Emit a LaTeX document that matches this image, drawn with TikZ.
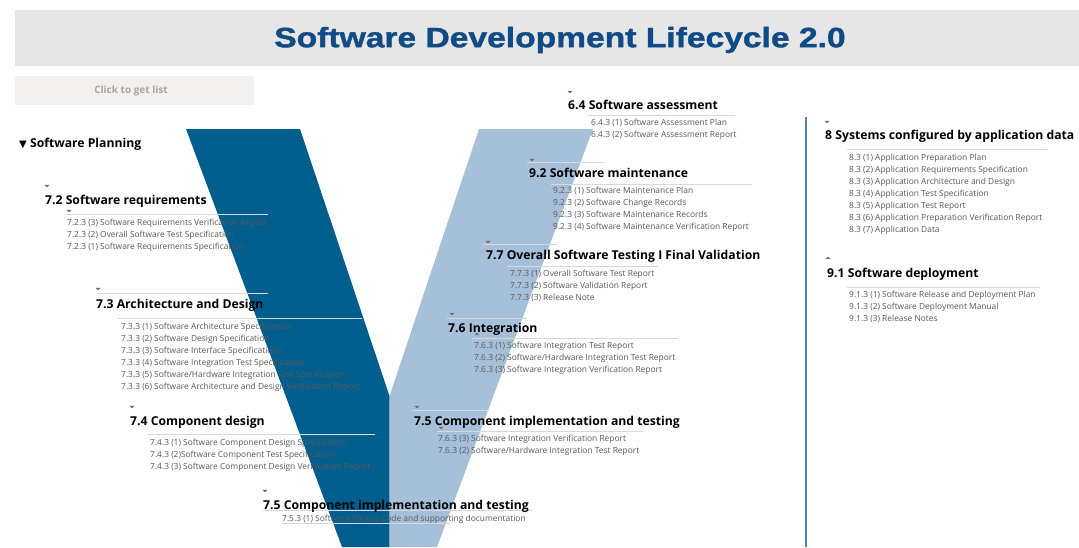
\documentclass[tikz,border=0pt]{standalone}
\usepackage{fontspec}
\setmainfont{Open Sans}
\newfontfamily\titlefont[FakeStretch=1.2,BoldFeatures={FakeStretch=1.2,FakeBold=1.4}]{Liberation Sans}
\newfontfamily\symfont{DejaVu Sans}
\definecolor{vdark}{RGB}{0,94,142}
\definecolor{vlight}{RGB}{166,192,217}
\definecolor{titleblue}{RGB}{17,75,133}
\definecolor{barg}{RGB}{230,230,230}
\definecolor{clickbg}{RGB}{242,241,240}
\definecolor{clicktx}{RGB}{165,165,165}
\definecolor{itemgray}{RGB}{89,89,89}
\definecolor{sepgray}{RGB}{217,217,217}
\definecolor{markgray}{RGB}{110,110,110}
\definecolor{vline}{RGB}{85,132,180}
\newcommand\dmk[2]{\fill[mk] (#1,#2) ++(-2.5,-1.2) -- ++(5,0) -- ++(-2.5,2.6) -- cycle;}
\newcommand\umk[2]{\fill[mk] (#1,#2) ++(-2.5,1.2) -- ++(5,0) -- ++(-2.5,-2.6) -- cycle;}
\begin{document}
\begin{tikzpicture}[x=1pt,y=-1pt,
  hd/.style={anchor=west,inner sep=0pt,font=\bfseries\fontsize{12.2}{14}\selectfont,text height=8.8pt,text depth=0pt,text=black},
  itm/.style={anchor=west,inner sep=0pt,font=\fontsize{8.4}{9}\selectfont,text height=6.1pt,text depth=0pt,text=itemgray},
  sep/.style={draw=sepgray,line width=0.8pt},
  mk/.style={fill=markgray,draw=none}]
\useasboundingbox (0,0) rectangle (1079,547);
\fill[white] (0,0) rectangle (1079,547);
% title bar
\fill[barg] (15,10) rectangle (1079,66);
\node[inner sep=0pt,text=titleblue,font=\titlefont\bfseries\fontsize{28}{30}\selectfont] (title) at (560,40) {Software Development Lifecycle 2.0};
% click box
\fill[clickbg] (15,76) rectangle (254,105);
\node[inner sep=0pt,text=clicktx,font=\bfseries\fontsize{10}{11}\selectfont] (click) at (131,91) {Click to get list};
% V shape
\fill[vdark] (186,129) -- (300,129) -- (389.5,396) -- (389.5,547) -- (342,547) -- cycle;
\fill[vlight] (389.5,396) -- (479,129) -- (593,129) -- (437,547) -- (389.5,547) -- cycle;
% vertical divider
\draw[vline,line width=2pt] (806,117) -- (806,547);
% separators
\draw[sep] (65,214) -- (268,214);
\draw[sep] (98,293) -- (268,293);
\draw[sep] (118,318) -- (362,318);
\draw[sep] (148,434) -- (375,434);
\draw[sep] (263,510) -- (532,510);
\draw[sep] (282,523) -- (450,523);
\draw[sep] (412,410) -- (490,410);
\draw[sep] (437,431) -- (643,431);
\draw[sep] (447,318) -- (527,318);
\draw[sep] (472,338) -- (678,338);
\draw[sep] (483,244) -- (557,244);
\draw[sep] (507,266) -- (658,266);
\draw[sep] (527,162) -- (605,162);
\draw[sep] (551,184) -- (752,184);
\draw[sep] (588,115) -- (735,115);
\draw[sep] (847,149) -- (1047,149);
\draw[sep] (847,287) -- (1040,287);
% markers
\dmk{47}{186}\dmk{69}{211}\dmk{98}{289}\dmk{132}{407}\dmk{265}{491}\dmk{417}{407}
\dmk{441}{428}\dmk{452}{314}\dmk{488}{242}\dmk{532}{160}\dmk{570}{92}\dmk{827}{122}
\umk{477}{334}\umk{828}{258}
% Software planning
\node[hd] (plan) at (19,143) {{\symfont\fontsize{10}{12}\selectfont ▼} Software Planning};
% 7.2
\node[hd] (h72) at (45,200) {7.2 Software requirements};
\node[itm] (i72a) at (67,222) {7.2.3 (3) Software Requirements Verification Report};
\node[itm] (i72b) at (67,234) {7.2.3 (2) Overall Software Test Specification};
\node[itm] (i72c) at (67,246) {7.2.3 (1) Software Requirements Specification};
% 7.3
\node[hd] (h73) at (96,304) {7.3 Architecture and Design};
\node[itm] (i73a) at (121,326) {7.3.3 (1) Software Architecture Specification};
\node[itm] (i73b) at (121,338) {7.3.3 (2) Software Design Specification};
\node[itm] (i73c) at (121,350) {7.3.3 (3) Software Interface Specifications};
\node[itm] (i73d) at (121,362) {7.3.3 (4) Software Integration Test Specification};
\node[itm] (i73e) at (121,374) {7.3.3 (5) Software/Hardware Integration Test Specification};
\node[itm] (i73f) at (121,386) {7.3.3 (6) Software Architecture and Design Verification Report};
% 7.4
\node[hd] (h74) at (130,421) {7.4 Component design};
\node[itm] (i74a) at (150,442) {7.4.3 (1) Software Component Design Specification};
\node[itm] (i74b) at (150,454) {7.4.3 (2)Software Component Test Specification};
\node[itm] (i74c) at (150,466) {7.4.3 (3) Software Component Design Verification Report};
% 7.5 bottom
\node[hd] (h75b) at (263,505) {7.5 Component implementation and testing};
\node[itm] (i75b) at (282,518) {7.5.3 (1) Software Source Code and supporting documentation};
% 7.5 right
\node[hd] (h75r) at (414,421) {7.5 Component implementation and testing};
\node[itm] (i75ra) at (438,438) {7.6.3 (3) Software Integration Verification Report};
\node[itm] (i75rb) at (438,450) {7.6.3 (2) Software/Hardware Integration Test Report};
% 7.6
\node[hd] (h76) at (448,328) {7.6 Integration};
\node[itm] (i76a) at (474,345) {7.6.3 (1) Software Integration Test Report};
\node[itm] (i76b) at (474,357) {7.6.3 (2) Software/Hardware Integration Test Report};
\node[itm] (i76c) at (474,369) {7.6.3 (3) Software Integration Verification Report};
% 7.7
\node[hd] (h77) at (486,255) {7.7 Overall Software Testing I Final Validation};
\node[itm] (i77a) at (510,273) {7.7.3 (1) Overall Software Test Report};
\node[itm] (i77b) at (510,285) {7.7.3 (2) Software Validation Report};
\node[itm] (i77c) at (510,297) {7.7.3 (3) Release Note};
% 9.2
\node[hd] (h92) at (529,173) {9.2 Software maintenance};
\node[itm] (i92a) at (553,190) {9.2.3 (1) Software Maintenance Plan};
\node[itm] (i92b) at (553,202) {9.2.3 (2) Software Change Records};
\node[itm] (i92c) at (553,214) {9.2.3 (3) Software Maintenance Records};
\node[itm] (i92d) at (553,226) {9.2.3 (4) Software Maintenance Verification Report};
% 6.4
\node[hd] (h64) at (568,105) {6.4 Software assessment};
\node[itm] (i64a) at (591,122) {6.4.3 (1) Software Assessment Plan};
\node[itm] (i64b) at (591,134) {6.4.3 (2) Software Assessment Report};
% 8
\node[hd] (h8) at (825,135) {8 Systems configured by application data};
\node[itm] (i8a) at (849,157) {8.3 (1) Application Preparation Plan};
\node[itm] (i8b) at (849,169) {8.3 (2) Application Requirements Specification};
\node[itm] (i8c) at (849,181) {8.3 (3) Application Architecture and Design};
\node[itm] (i8d) at (849,193) {8.3 (4) Application Test Specification};
\node[itm] (i8e) at (849,205) {8.3 (5) Application Test Report};
\node[itm] (i8f) at (849,217) {8.3 (6) Application Preparation Verification Report};
\node[itm] (i8g) at (849,229) {8.3 (7) Application Data};
% 9.1
\node[hd] (h91) at (827,273) {9.1 Software deployment};
\node[itm] (i91a) at (849,294) {9.1.3 (1) Software Release and Deployment Plan};
\node[itm] (i91b) at (849,306) {9.1.3 (2) Software Deployment Manual};
\node[itm] (i91c) at (849,318) {9.1.3 (3) Release Notes};
\end{tikzpicture}
\end{document}
